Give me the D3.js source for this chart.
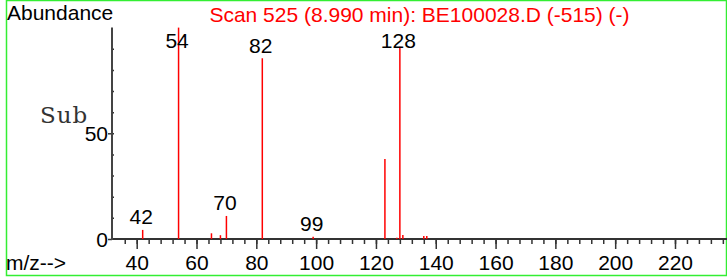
<!DOCTYPE html>
<html>
<head>
<meta charset="utf-8">
<script src="https://cdn.jsdelivr.net/npm/d3@7"></script>
<style>
  body { margin: 0; background: #fff; }
  svg { display: block; }
  text { font-family: "Liberation Sans", Arial, sans-serif; }
</style>
</head>
<body>
<div id="chart"></div>
<script>
// spectrum
var masses = [42, 54, 65, 68, 70, 82, 99, 123, 127, 128, 129, 136, 137];
var abundances = [4.3, 100, 2.7, 1.8, 10.9, 85.5, 1.1, 37.8, 0.6, 91, 1.9, 1.4, 1.4];
var labelled = [42, 54, 70, 82, 99, 128];
var xMajorTicks = [40, 60, 80, 100, 120, 140, 160, 180, 200, 220];
var yMajorTicks = [0, 50];
var title = 'Scan 525 (8.990 min): BE100028.D (-515) (-)';

var width = 727,
  height = 277,
  left = 112,
  base = 239,
  fontSize = 21;

var peaks = masses.map(function (m, i) { return { mz: m, ab: abundances[i] }; });

var x = d3.scaleLinear()
  .domain([40, 220])
  .range([136.7, 675]);
var y = d3.scaleLinear()
  .domain([0, 100])
  .range([base, 27.6]);

var svg = d3.select('#chart').append('svg')
  .attr('width', width)
  .attr('height', height);

// frame
svg.append('rect')
  .attr('x', 6.5)
  .attr('y', 0.5)
  .attr('width', 720)
  .attr('height', 275)
  .attr('fill', 'none')
  .attr('stroke', '#33ee33')
  .attr('stroke-width', 1.5);

// x axis: minor ticks, then major ticks with labels
var xMinor = d3.axisBottom(x)
  .tickValues(d3.range(36, x.invert(width), 4))
  .tickSize(5)
  .tickFormat('');
var xMajor = d3.axisBottom(x)
  .tickValues(xMajorTicks)
  .tickSize(10)
  .tickPadding(6)
  .tickFormat(d3.format('d'));

[xMinor, xMajor].forEach(function (ax) {
  var g = svg.append('g')
    .attr('transform', 'translate(0,' + base + ')')
    .call(ax);
  g.select('.domain').remove();
  g.selectAll('line').attr('stroke', '#333').attr('stroke-width', 1.5);
  g.selectAll('text')
    .attr('fill', '#000')
    .style('font-family', '"Liberation Sans", Arial, sans-serif')
    .style('font-size', fontSize + 'px');
});

// y axis
var yMinor = d3.axisRight(y)
  .tickValues(d3.range(10, 100, 10))
  .tickSize(2)
  .tickFormat('');
var yMajor = d3.axisLeft(y)
  .tickValues(yMajorTicks)
  .tickSize(4)
  .tickPadding(0)
  .tickFormat(d3.format('d'));

[yMinor, yMajor].forEach(function (ax) {
  var g = svg.append('g')
    .attr('transform', 'translate(' + left + ',0)')
    .call(ax);
  g.select('.domain').remove();
  g.selectAll('line').attr('stroke', '#333').attr('stroke-width', 1.5);
  g.selectAll('text')
    .attr('fill', '#000')
    .attr('dy', '0.36em')
    .style('font-family', '"Liberation Sans", Arial, sans-serif')
    .style('font-size', fontSize + 'px');
});

// axis lines
svg.append('line')
  .attr('x1', left).attr('x2', width)
  .attr('y1', base).attr('y2', base)
  .attr('stroke', '#333')
  .attr('stroke-width', 2);
svg.append('line')
  .attr('x1', left).attr('x2', left)
  .attr('y1', y(100)).attr('y2', base + 1)
  .attr('stroke', '#444')
  .attr('stroke-width', 2);

// peaks
svg.append('g').selectAll('line')
  .data(peaks)
  .enter().append('line')
    .attr('x1', function (d) { return x(d.mz); })
    .attr('x2', function (d) { return x(d.mz); })
    .attr('y1', base)
    .attr('y2', function (d) { return y(d.ab); })
    .attr('stroke', '#ff0000')
    .attr('stroke-width', 1.5);

// peak labels, kept below the title line
svg.append('g').selectAll('text')
  .data(peaks.filter(function (d) { return labelled.indexOf(d.mz) >= 0; }))
  .enter().append('text')
    .attr('x', function (d) { return x(d.mz) - 1.5; })
    .attr('y', function (d) { return Math.max(y(d.ab) - 5.5, 48); })
    .attr('text-anchor', 'middle')
    .attr('font-size', fontSize)
    .attr('fill', '#000')
    .text(function (d) { return d.mz; });

// texts
svg.append('text')
  .attr('x', 7)
  .attr('y', 20)
  .attr('font-size', fontSize)
  .attr('fill', '#000')
  .text('Abundance');

svg.append('text')
  .attr('x', (left + width) / 2)
  .attr('y', 22)
  .attr('text-anchor', 'middle')
  .attr('font-size', fontSize)
  .attr('fill', '#ff0000')
  .text(title);

svg.append('text')
  .attr('x', 40)
  .attr('y', 123)
  .attr('font-size', 23)
  .attr('letter-spacing', 1)
  .attr('fill', '#333')
  .style('font-family', '"DejaVu Serif", "Liberation Serif", serif')
  .text('Sub');

svg.append('text')
  .attr('x', 6)
  .attr('y', 270)
  .attr('font-size', fontSize)
  .attr('fill', '#000')
  .text('m/z-->');
</script>
</body>
</html>
